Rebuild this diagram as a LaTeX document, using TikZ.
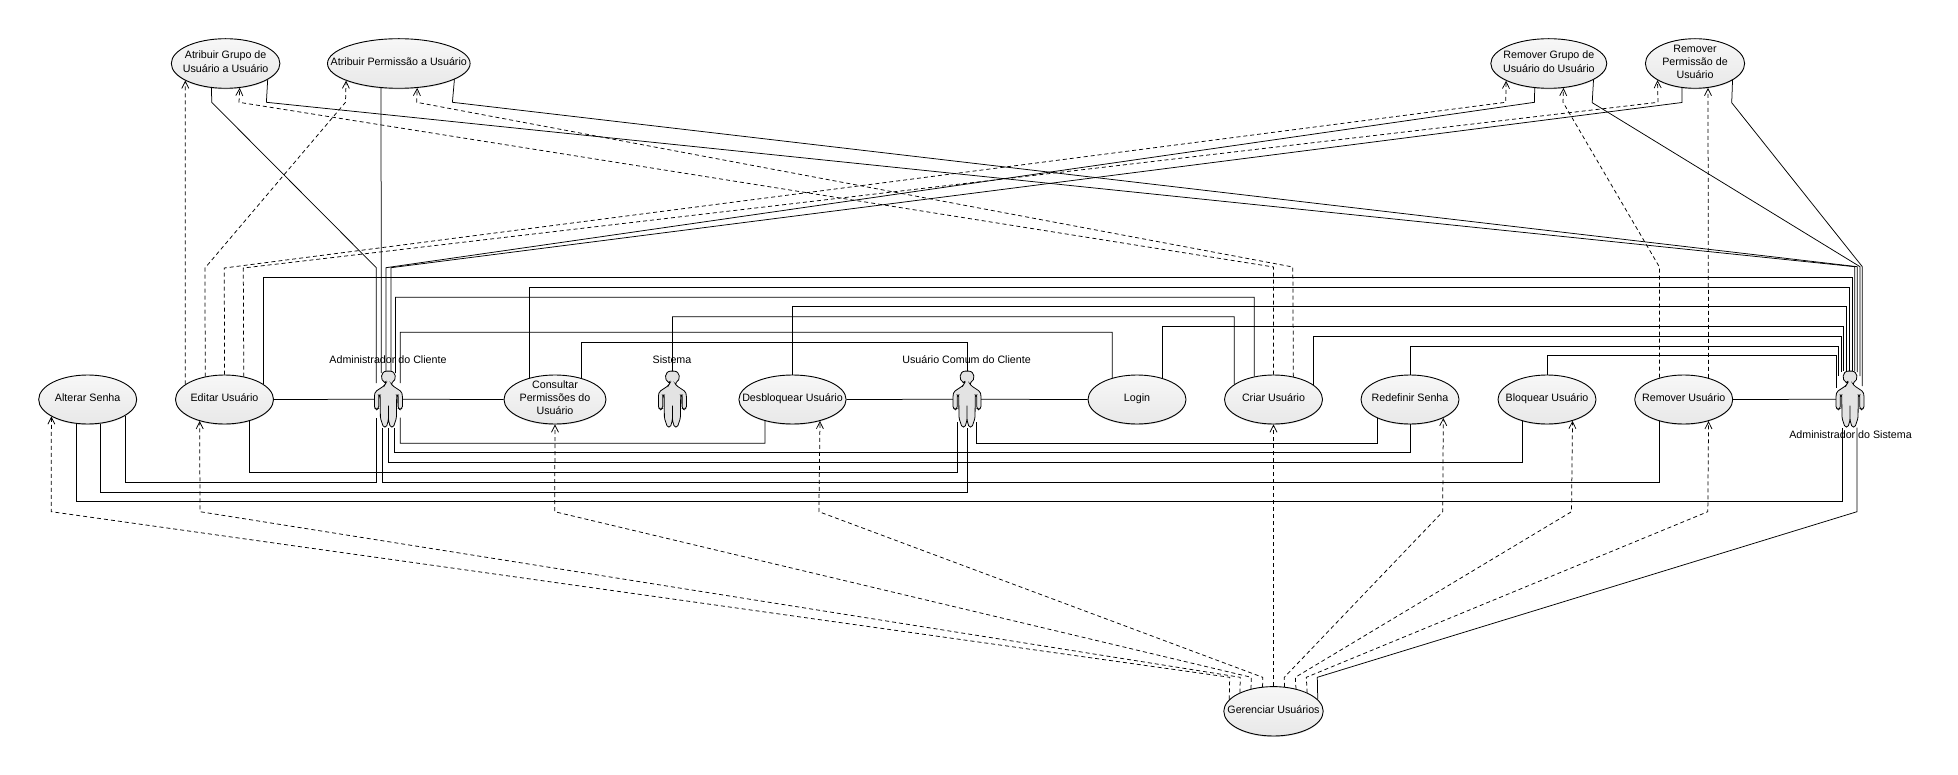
\documentclass[tikz,border=0pt]{standalone}
\usepackage{fontspec}
\setmainfont{Liberation Sans}
\usepackage{tikz}
\usetikzlibrary{arrows.meta}
\usetikzlibrary{shapes.geometric}
\usetikzlibrary{shadows}

\newcommand{\casetext}[1]{\makebox[0pt]{\raisebox{-4pt}{\smash{\begin{tabular}[c]{@{}c@{}}#1\end{tabular}}}}}

\tikzset{
  usecase/.style={ellipse, draw, line width=0.9pt, inner sep=0pt, minimum width=98, minimum height=49,
    top color=black!3, bottom color=black!9, font=\fontsize{10.7}{13.3}\selectfont,
    drop shadow={shadow xshift=0pt, shadow yshift=-1pt, fill=black, opacity=0.15}},
  actorbox/.style={rectangle, inner sep=0pt, minimum width=28, minimum height=56},
  actortext/.style={inner sep=0pt, font=\fontsize{10.7}{13.3}\selectfont},
  assoc/.style={line width=0.75pt},
  incl/.style={->, line width=0.75pt, dash pattern=on 4pt off 3pt, >={Straight Barb[length=7pt,width=7pt]}},
  pics/actorfig/.style={code={
    \draw[line width=0.8pt, fill=black!11, rounded corners=1.5pt]
      (-2.5,12) -- (-4,14.5) -- (-13,20.5) -- (-14,24) -- (-14,37) -- (-11.5,38.5) -- (-9.7,37)
      -- (-9.7,24) -- (-8.3,24) -- (-8,47) -- (-5,56) -- (-2,56) -- (0,49) -- (0,33) -- (0,49)
      -- (2,56) -- (5,56) -- (8,47) -- (8.3,24) -- (9.7,24) -- (9.7,37) -- (11.5,38.5) -- (14,37)
      -- (14,24) -- (13,20.5) -- (4,14.5) -- (2.5,12)
      .. controls (8.5,9) and (8,0) .. (0,0) .. controls (-8,0) and (-8.5,9) .. (-2.5,12) -- cycle;
  }}
}

\begin{document}
\begin{tikzpicture}[x=1pt, y=-1pt]
  \useasboundingbox (0,0) rectangle (1958,775);

  % Casos de uso
  \node[usecase, minimum width=108.6, minimum height=49.6] (atribgrupo) at (225.6,63.5) {\casetext{Atribuir Grupo de\\Usuário a Usuário}};
  \node[usecase, minimum width=142.6, minimum height=49.6] (atribperm) at (398.8,63.5) {\casetext{Atribuir Permissão a Usuário}};
  \node[usecase, minimum width=116, minimum height=49.6] (removergrupo) at (1548.8,63.5) {\casetext{Remover Grupo de\\Usuário do Usuário}};
  \node[usecase, minimum width=99.2, minimum height=49.6] (removerperm) at (1695,63.5) {\casetext{Remover\\Permissão de\\Usuário}};
  \node[usecase] (alterar) at (87.7,399.5) {\casetext{Alterar Senha}};
  \node[usecase] (editar) at (224.5,399.5) {\casetext{Editar Usuário}};
  \node[usecase, minimum width=102] (consultar) at (555,399.5) {\casetext{Consultar\\Permissões do\\Usuário}};
  \node[usecase, minimum width=107.2] (desbloquear) at (792.5,399.5) {\casetext{Desbloquear Usuário}};
  \node[usecase] (login) at (1137,399.5) {\casetext{Login}};
  \node[usecase] (criar) at (1273.5,399.5) {\casetext{Criar Usuário}};
  \node[usecase] (redefinir) at (1410,399.5) {\casetext{Redefinir Senha}};
  \node[usecase] (bloquear) at (1547,399.5) {\casetext{Bloquear Usuário}};
  \node[usecase] (remover) at (1683.7,399.5) {\casetext{Remover Usuário}};
  \node[usecase, minimum width=99.4, minimum height=49.4] (gerenciar) at (1273.5,711.3) {\casetext{Gerenciar Usuários}};

  % Atores
  \node[actorbox] (adminc) at (388.4,399.3) {};
  \node[actorbox] (sistema) at (672.4,399.3) {};
  \node[actorbox] (usuarioc) at (967,399.3) {};
  \node[actorbox] (admins) at (1850,399.3) {};
  \pic at (adminc.north) {actorfig};
  \pic at (sistema.north) {actorfig};
  \pic at (usuarioc.north) {actorfig};
  \pic at (admins.north) {actorfig};
  \node[actortext] (admincnome) at (388,360) {Administrador do Cliente};
  \node[actortext] (sistemanome) at (672,360) {Sistema};
  \node[actortext] (usuarionome) at (966.6,360) {Usuário Comum do Cliente};
  \node[actortext] (adminsnome) at (1850.5,435) {Administrador do Sistema};

  % Associacoes do Administrador do Cliente
  \draw[assoc] (atribgrupo.-120.1) -- (211.7,102.3) -- (376.3,267.7) -- ([shift={(-12.1,12)}]adminc.north);
  \draw[assoc] (atribperm.-126.1) -- ([shift={(-7.1,2)}]adminc.north);
  \draw[assoc] (removergrupo.-120.8) -- (1534.5,102.3) -- (386,267.7) -- ([shift={(-2.4,0)}]adminc.north);
  \draw[assoc] (removerperm.-118.5) -- (1682,102.5) -- (391,267.7) -- ([shift={(2.6,0)}]adminc.north);
  \draw[assoc] (criar.130.8) |- (395.6,297.3) -- ([shift={(7.2,2)}]adminc.north);
  \draw[assoc] (login.139.8) |- (400.3,332.3) -- ([shift={(11.9,12)}]adminc.north);
  \draw[assoc] (editar) -- (adminc);
  \draw[assoc] (adminc) -- (consultar);
  \draw[assoc] (alterar.-23.6) |- (376.7,482.3) -- ([shift={(-11.7,-10)}]adminc.south);
  \draw[assoc] (remover.-138.8) |- (382.4,482.3) -- ([shift={(-6,0)}]adminc.south);
  \draw[assoc] (bloquear.-139.6) |- (388,462.7) -- ([shift={(-0.4,0)}]adminc.south);
  \draw[assoc] (redefinir.-90) |- (394.4,452.7) -- ([shift={(6,0)}]adminc.south);
  \draw[assoc] (desbloquear.-142.1) |- (400.3,443.3) -- ([shift={(11.9,-10)}]adminc.south);

  % Associacoes do Usuario Comum do Cliente
  \draw[assoc] (consultar.39.3) |- (967,342.3) -- (usuarioc.north);
  \draw[assoc] (desbloquear) -- (usuarioc);
  \draw[assoc] (usuarioc) -- (login);
  \draw[assoc] (editar.-41.9) |- (957.3,472.3) -- ([shift={(-9.7,-5.6)}]usuarioc.south);
  \draw[assoc] (alterar.-63.2) |- (967,492) -- (usuarioc.south);
  \draw[assoc] (redefinir.-150) |- (976.7,443.3) -- ([shift={(9.7,-5.6)}]usuarioc.south);

  % Associacao do Sistema
  \draw[assoc] (sistema.north) |- (1234.3,316.7) -- (criar.159.3);

  % Associacoes do Administrador do Sistema
  \draw[assoc] (bloquear.90) |- (1836,355.7) -- ([shift={(-14,17)}]admins.north);
  \draw[assoc] (redefinir.90) |- (1838.7,346) -- ([shift={(-11.3,5)}]admins.north);
  \draw[assoc] (criar.20.6) |- (1841.3,336) -- ([shift={(-8.7,1)}]admins.north);
  \draw[assoc] (login.40.9) |- (1843.7,326.3) -- ([shift={(-6.3,0)}]admins.north);
  \draw[assoc] (desbloquear.90) |- (1846.7,306.8) -- ([shift={(-3.3,0)}]admins.north);
  \draw[assoc] (consultar.140.2) |- (1849.3,287.3) -- ([shift={(-0.7,0)}]admins.north);
  \draw[assoc] (editar.21.4) |- (1852,277.7) -- ([shift={(2,0)}]admins.north);
  \draw[assoc] (atribgrupo.-21.9) -- (266.4,102.3) -- (1854.7,266.7) -- ([shift={(4.7,0)}]admins.north);
  \draw[assoc] (atribperm.-16.9) -- (452.4,102.3) -- (1857.3,266.7) -- ([shift={(7.3,1)}]admins.north);
  \draw[assoc] (removergrupo.-20.7) -- (1592.2,102.7) -- (1860,266.7) -- ([shift={(10,5)}]admins.north);
  \draw[assoc] (removerperm.-24.5) -- (1731.7,102.7) -- (1862.3,266.7) -- ([shift={(12.3,15)}]admins.north);
  \draw[assoc] (remover) -- (admins);
  \draw[assoc] (alterar.-116.7) |- (1842,501.7) -- ([shift={(-8,0)}]admins.south);
  \draw[assoc] (gerenciar.15.3) -- (1317.3,677.3) -- (1857,511.7) -- ([shift={(7,0)}]admins.south);

  % Inclusoes a partir de Gerenciar Usuarios
  \draw[incl] (gerenciar.165.4) -- (1229.7,677.3) -- (51.3,511.7) -- (alterar.-155.8);
  \draw[incl] (gerenciar.151.3) -- (1240.3,677.3) -- (200,511.7) -- (editar.-139.1);
  \draw[incl] (gerenciar.135.4) -- (1251.3,677.3) -- (554.7,511.7) -- (consultar.-90);
  \draw[incl] (gerenciar.114.5) -- (1262.7,677.3) -- (818.9,511.7) -- (desbloquear.-38.9);
  \draw[incl] (gerenciar.90) -- (criar.-90);
  \draw[incl] (gerenciar.66.3) -- (1284.3,677.3) -- (1442.7,511.7) -- (redefinir.-29.2);
  \draw[incl] (gerenciar.45.8) -- (1295.3,677.3) -- (1571.5,511.7) -- (bloquear.-40.9);
  \draw[incl] (gerenciar.29.7) -- (1306.3,677.3) -- (1707.8,511.7) -- (remover.-41.5);

  % Inclusoes a partir de Editar, Criar e Remover
  \draw[incl] (editar.159.6) -- (atribgrupo.-157.7);
  \draw[incl] (editar.130.9) -- (205,268) -- (345.5,102.3) -- (atribperm.-162.8);
  \draw[incl] (editar.90) -- (224.3,268) -- (1505.7,102.3) -- (removergrupo.-158.9);
  \draw[incl] (editar.50.2) -- (243.3,268) -- (1658,102.3) -- (removerperm.-156);
  \draw[incl] (criar.90) -- (1273.5,267) -- (239,102.3) -- (atribgrupo.-60.8);
  \draw[incl] (criar.49.2) -- (1292.8,267) -- (416.7,102.3) -- (atribperm.-53.3);
  \draw[incl] (remover.138.8) -- (1659.4,267) -- (1563,102.3) -- (removergrupo.-59.4);
  \draw[incl] (remover.41.5) -- (removerperm.-62.5);
\end{tikzpicture}
\end{document}
